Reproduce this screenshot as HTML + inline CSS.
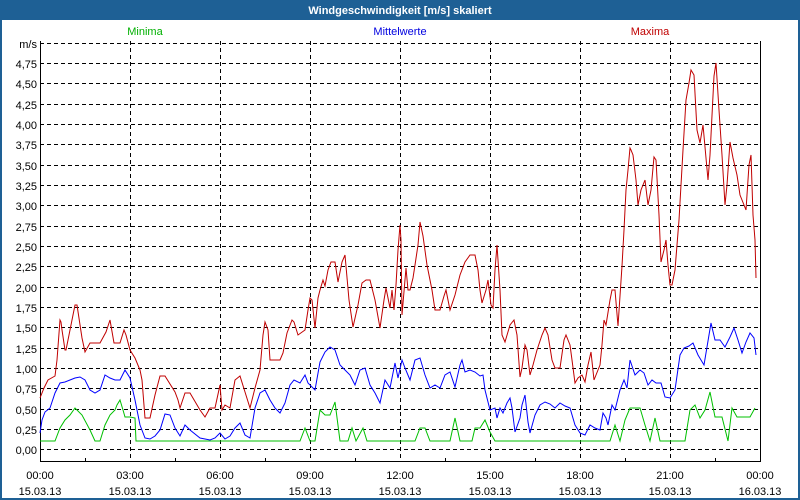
<!DOCTYPE html>
<html><head><meta charset="utf-8"><style>
body{margin:0;background:#fff;}
svg{display:block;font-family:"Liberation Sans",sans-serif;}
</style></head><body>
<svg width="800" height="500" xmlns="http://www.w3.org/2000/svg">
<rect x="0" y="0" width="800" height="500" fill="#fff"/>
<rect x="1" y="1" width="798" height="498" fill="none" stroke="#1e6095" stroke-width="2"/>
<rect x="0" y="0" width="800" height="20" fill="#1e6095"/>
<text x="400" y="14" fill="#fff" font-size="11" font-weight="bold" text-anchor="middle">Windgeschwindigkeit [m/s] skaliert</text>
<text x="145" y="35" fill="#00b000" font-size="11" text-anchor="middle">Minima</text>
<text x="400" y="35" fill="#0000e0" font-size="11" text-anchor="middle">Mittelwerte</text>
<text x="650" y="35" fill="#c00000" font-size="11" text-anchor="middle">Maxima</text>
<g stroke="#000" stroke-width="1" stroke-dasharray="4,3" shape-rendering="crispEdges">
<line x1="40" x2="760" y1="43.5" y2="43.5"/>
<line x1="40" x2="760" y1="63.5" y2="63.5"/><line x1="40" x2="760" y1="83.5" y2="83.5"/>
<line x1="40" x2="760" y1="104.5" y2="104.5"/><line x1="40" x2="760" y1="124.5" y2="124.5"/>
<line x1="40" x2="760" y1="144.5" y2="144.5"/><line x1="40" x2="760" y1="165.5" y2="165.5"/>
<line x1="40" x2="760" y1="185.5" y2="185.5"/><line x1="40" x2="760" y1="205.5" y2="205.5"/>
<line x1="40" x2="760" y1="226.5" y2="226.5"/><line x1="40" x2="760" y1="246.5" y2="246.5"/>
<line x1="40" x2="760" y1="266.5" y2="266.5"/><line x1="40" x2="760" y1="287.5" y2="287.5"/>
<line x1="40" x2="760" y1="307.5" y2="307.5"/><line x1="40" x2="760" y1="327.5" y2="327.5"/>
<line x1="40" x2="760" y1="348.5" y2="348.5"/><line x1="40" x2="760" y1="368.5" y2="368.5"/>
<line x1="40" x2="760" y1="388.5" y2="388.5"/><line x1="40" x2="760" y1="409.5" y2="409.5"/>
<line x1="40" x2="760" y1="429.5" y2="429.5"/><line x1="40" x2="760" y1="449.5" y2="449.5"/>
<line x1="130.5" x2="130.5" y1="41" y2="461"/><line x1="220.5" x2="220.5" y1="41" y2="461"/>
<line x1="310.5" x2="310.5" y1="41" y2="461"/><line x1="400.5" x2="400.5" y1="41" y2="461"/>
<line x1="490.5" x2="490.5" y1="41" y2="461"/><line x1="580.5" x2="580.5" y1="41" y2="461"/>
<line x1="670.5" x2="670.5" y1="41" y2="461"/>
</g>
<g stroke="#000" stroke-width="1" shape-rendering="crispEdges" fill="none">
<polyline points="40.5,41 40.5,461.5 760.5,461.5 760.5,41"/>
<line x1="85.5" x2="85.5" y1="458" y2="461"/><line x1="175.5" x2="175.5" y1="458" y2="461"/>
<line x1="265.5" x2="265.5" y1="458" y2="461"/><line x1="355.5" x2="355.5" y1="458" y2="461"/>
<line x1="445.5" x2="445.5" y1="458" y2="461"/><line x1="535.5" x2="535.5" y1="458" y2="461"/>
<line x1="625.5" x2="625.5" y1="458" y2="461"/><line x1="715.5" x2="715.5" y1="458" y2="461"/>
</g>
<g font-size="11" fill="#000" text-anchor="end">
<text x="37" y="48">m/s</text><text x="37" y="68">4,75</text><text x="37" y="88">4,50</text>
<text x="37" y="109">4,25</text><text x="37" y="129">4,00</text><text x="37" y="149">3,75</text>
<text x="37" y="170">3,50</text><text x="37" y="190">3,25</text><text x="37" y="210">3,00</text>
<text x="37" y="231">2,75</text><text x="37" y="251">2,50</text><text x="37" y="271">2,25</text>
<text x="37" y="292">2,00</text><text x="37" y="312">1,75</text><text x="37" y="332">1,50</text>
<text x="37" y="353">1,25</text><text x="37" y="373">1,00</text><text x="37" y="393">0,75</text>
<text x="37" y="414">0,50</text><text x="37" y="434">0,25</text><text x="37" y="454">0,00</text>
</g>
<g font-size="11" fill="#000" text-anchor="middle">
<text x="40" y="479">00:00</text><text x="40" y="495">15.03.13</text>
<text x="130" y="479">03:00</text><text x="130" y="495">15.03.13</text>
<text x="220" y="479">06:00</text><text x="220" y="495">15.03.13</text>
<text x="310" y="479">09:00</text><text x="310" y="495">15.03.13</text>
<text x="400" y="479">12:00</text><text x="400" y="495">15.03.13</text>
<text x="490" y="479">15:00</text><text x="490" y="495">15.03.13</text>
<text x="580" y="479">18:00</text><text x="580" y="495">15.03.13</text>
<text x="670" y="479">21:00</text><text x="670" y="495">15.03.13</text>
<text x="760" y="479">00:00</text><text x="760" y="495">16.03.13</text>
</g>
<g fill="none" stroke-width="1">
<polyline stroke="#00c000" points="40,441 55,441 60,428 65,420 70,415 75,408 82,415 90,430 95,441 100,441 105,425 110,415 115,410 117,405 120,400 123,410 125,417 130,417 135,418 136,441 300,441 305,428 310,441 315,441 320,410 325,415 330,415 335,402 340,441 348,441 352,428 356,441 363,428 367,441 415,441 420,428 425,428 430,441 450,441 455,418 460,441 472,441 475,428 480,428 485,420 490,432 495,441 610,441 615,425 620,441 625,420 630,408 640,408 645,425 650,441 655,418 660,441 685,441 690,410 695,405 700,418 705,410 710,392 715,417 722,417 728,441 732,408 737,417 750,417 755,408"/>
<polyline stroke="#0000ff" points="40,433 42,420 45,412 50,408 55,393 60,383 65,382 70,380 75,378 80,377 85,380 90,390 95,393 100,390 105,375 110,378 115,380 120,380 125,370 130,378 135,400 140,425 145,438 150,439 155,436 160,430 165,414 170,415 175,428 180,436 185,425 190,430 200,438 210,440 215,438 220,433 225,439 230,436 235,428 240,423 245,435 250,438 255,408 260,393 265,390 270,400 275,408 280,413 285,403 290,385 294,380 300,383 305,375 308,383 315,390 320,362 325,352 330,347 335,350 340,365 345,370 350,375 355,385 360,370 365,368 370,385 375,393 380,403 385,380 390,388 395,363 398,378 402,360 405,368 410,380 415,360 420,358 425,375 430,388 435,385 440,388 445,375 450,372 455,387 460,365 462,360 465,372 470,370 475,372 480,376 483,375 485,390 490,410 495,408 497,418 500,408 503,413 507,403 510,398 512,408 515,432 520,418 522,405 525,395 528,422 530,433 535,415 540,405 545,402 550,404 555,408 560,403 565,406 570,408 575,425 580,433 585,435 590,425 595,428 600,430 603,413 606,418 608,425 612,405 615,410 620,390 624,380 627,388 630,360 635,375 640,370 644,373 648,385 652,380 656,383 661,383 665,397 670,398 675,390 680,355 684,348 689,346 693,343 698,355 704,365 711,323 715,340 720,340 725,347 730,337 734,328 738,340 742,353 746,342 750,333 754,338 756,355"/>
<polyline stroke="#c00000" points="40,398 44,388 48,380 55,376 57,360 60,320 61,322 62,330 65,350 66,350 70,330 75,305 77,305 82,338 85,352 90,343 94,343 100,343 106,332 110,320 114,343 120,343 124,330 126,335 130,350 135,358 140,370 142,380 145,418 150,418 155,395 160,376 165,376 175,392 178,400 180,408 185,393 190,393 200,410 205,417 210,408 215,408 220,385 222,410 225,405 230,408 235,380 240,376 245,392 250,408 255,388 260,370 263,335 265,322 268,330 270,360 275,360 280,360 283,353 287,333 292,320 294,322 298,335 305,330 308,310 310,298 312,300 315,328 318,298 320,290 323,280 325,286 328,270 331,262 335,262 338,282 342,262 345,255 349,300 353,327 358,305 362,283 366,280 370,280 375,300 380,328 384,300 386,288 390,308 392,290 394,310 396,285 398,250 400,225 401,240 402,315 406,268 408,290 410,290 413,278 415,265 418,245 420,222 423,236 427,265 432,290 435,310 440,310 444,296 446,290 450,310 455,295 460,275 465,262 470,255 475,255 478,270 480,290 482,303 486,290 488,280 491,305 493,308 495,270 497,245 498,260 500,290 502,335 505,342 510,325 514,320 517,335 520,377 522,368 525,345 527,350 530,375 533,365 537,350 542,335 545,328 548,335 552,360 555,368 560,368 564,340 566,335 570,345 572,360 575,383 578,378 582,375 585,382 588,365 591,352 594,380 598,370 600,365 602,345 604,320 606,325 610,300 612,290 615,290 618,326 622,266 624,230 626,190 628,170 630,148 631,150 633,155 636,180 638,205 641,190 645,180 648,205 651,190 654,157 656,160 659,215 661,262 664,250 666,240 668,265 670,285 672,285 675,270 679,220 683,150 686,100 689,83 691,70 694,75 697,130 700,143 703,125 708,180 710,155 714,76 716,63 719,110 722,155 725,205 727,185 730,142 733,158 737,175 740,195 744,205 746,210 749,165 751,155 753,215 755,240 756,278"/>
</g>
</svg>
</body></html>
